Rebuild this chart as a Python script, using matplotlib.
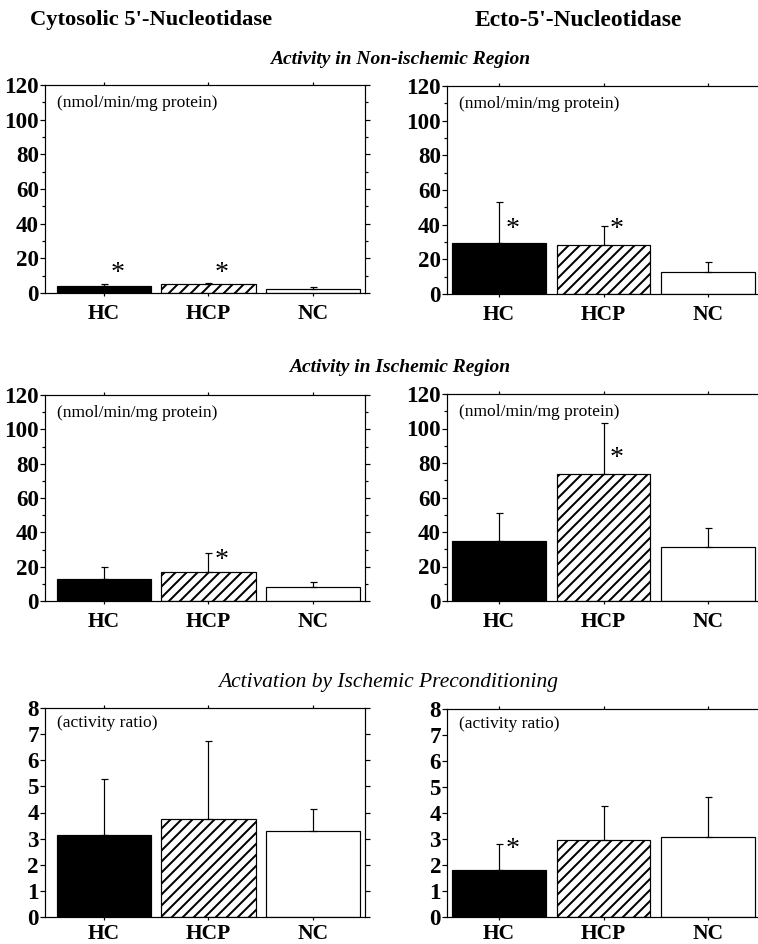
import matplotlib
matplotlib.use("Agg")
import matplotlib.pyplot as plt
from matplotlib.ticker import MultipleLocator
import numpy as np

DPI = 200 / 3
W, H = 758, 944

def pt(px):
    return px * 72.0 / DPI

plt.rcParams['font.family'] = ['Liberation Serif', 'DejaVu Serif']
plt.rcParams['hatch.linewidth'] = pt(2.0)

groups = ["HC", "HCP", "NC"]

cyto_nonisch = [4.2, 5.0, 2.3]
cyto_nonisch_err = [0.8, 0.5, 0.9]
ecto_nonisch = [29.4, 28.0, 12.7]
ecto_nonisch_err = [23.9, 11.0, 5.7]

cyto_isch = [12.6, 16.7, 8.2]
cyto_isch_err = [7.4, 11.4, 2.7]
ecto_isch = [35.0, 73.4, 31.5]
ecto_isch_err = [15.8, 29.6, 10.8]

cyto_ratio = [3.15, 3.75, 3.30]
cyto_ratio_err = [2.14, 3.00, 0.82]
ecto_ratio = [1.80, 2.95, 3.06]
ecto_ratio_err = [1.00, 1.33, 1.56]

# asterisk annotations: (group index, y position)
cyto_nonisch_star = [(0, 11.5), (1, 11.5)]
ecto_nonisch_star = [(0, 37.5), (1, 37.5)]
cyto_isch_star = [(1, 23.5)]
ecto_isch_star = [(1, 82.5)]
cyto_ratio_star = []
ecto_ratio_star = [(0, 2.6)]

fig = plt.figure(figsize=(W / DPI, H / DPI), dpi=DPI)

def box(x0, y0, x1, y1):
    return [x0 / W, 1 - y1 / H, (x1 - x0) / W, (y1 - y0) / H]

panels = [
    (box(45, 85, 365, 293), (-0.565, 2.498), cyto_nonisch, cyto_nonisch_err, cyto_nonisch_star, 120, "(nmol/min/mg protein)", 8),
    (box(447, 86, 760, 294), (-0.5, 2.5), ecto_nonisch, ecto_nonisch_err, ecto_nonisch_star, 120, "(nmol/min/mg protein)", 8),
    (box(45, 395, 365, 601), (-0.565, 2.498), cyto_isch, cyto_isch_err, cyto_isch_star, 120, "(nmol/min/mg protein)", 8),
    (box(447, 394, 760, 601), (-0.5, 2.5), ecto_isch, ecto_isch_err, ecto_isch_star, 120, "(nmol/min/mg protein)", 8),
    (box(45, 708, 365, 917), (-0.565, 2.498), cyto_ratio, cyto_ratio_err, cyto_ratio_star, 8, "(activity ratio)", 4),
    (box(447, 709, 760, 917), (-0.5, 2.5), ecto_ratio, ecto_ratio_err, ecto_ratio_star, 8, "(activity ratio)", 4),
]

faces = ["black", "white", "white"]
hatches = [None, "//", None]
lw = pt(1.2)

for rect, xlim, vals, errs, stars, ymax, unit, xpad in panels:
    ax = fig.add_axes(rect)
    x = np.arange(len(groups))
    for i in range(len(groups)):
        ax.bar(x[i], vals[i], width=0.9, color=faces[i], edgecolor="black",
               linewidth=lw, hatch=hatches[i], zorder=2)
    ax.errorbar(x, vals, yerr=[np.zeros(len(vals)), errs], fmt="none",
                ecolor="black", elinewidth=lw, capsize=pt(3.5), capthick=lw, zorder=3)
    for gi, sy in stars:
        ax.text(x[gi] + 0.13, sy, "*", ha="center", va="center",
                fontsize=pt(28), zorder=4)
    ax.set_xlim(*xlim)
    ax.set_ylim(0, ymax)
    ax.set_xticks(x)
    ax.set_xticklabels(groups, fontsize=pt(21.5), fontweight="bold")
    if ymax == 120:
        ax.yaxis.set_major_locator(MultipleLocator(20))
        ax.yaxis.set_minor_locator(MultipleLocator(10))
    else:
        ax.yaxis.set_major_locator(MultipleLocator(1))
    for lab in ax.get_yticklabels():
        lab.set_fontweight("bold")
        lab.set_fontsize(pt(23))
    ax.tick_params(axis="y", which="both", direction="out", right=True,
                   labelright=False, width=lw, pad=pt(1))
    ax.tick_params(axis="y", which="major", length=pt(5))
    ax.tick_params(axis="y", which="minor", length=pt(3))
    ax.tick_params(axis="x", which="both", direction="out", top=True,
                   length=pt(3), width=lw, pad=pt(xpad))
    for s in ax.spines.values():
        s.set_linewidth(lw)
    ax.text(0.037, 0.915 if ymax == 120 else 0.93, unit, transform=ax.transAxes,
            ha="left", va="center", fontsize=pt(17.5))

fig.text(151 / W, 1 - 20 / H, "Cytosolic 5'-Nucleotidase", ha="center", va="center",
         fontsize=pt(22.5), fontweight="bold")
fig.text(578 / W, 1 - 20 / H, "Ecto-5'-Nucleotidase", ha="center", va="center",
         fontsize=pt(23.5), fontweight="bold")
fig.text(400 / W, 1 - 60 / H, "Activity in Non-ischemic Region", ha="center", va="center",
         fontsize=pt(19.5), fontweight="bold", fontstyle="italic")
fig.text(400 / W, 1 - 367 / H, "Activity in Ischemic Region", ha="center", va="center",
         fontsize=pt(19.5), fontweight="bold", fontstyle="italic")
fig.text(388 / W, 1 - 683 / H, "Activation by Ischemic Preconditioning", ha="center", va="center",
         fontsize=pt(21.5), fontstyle="italic")

fig.savefig("out.png", dpi=DPI)
